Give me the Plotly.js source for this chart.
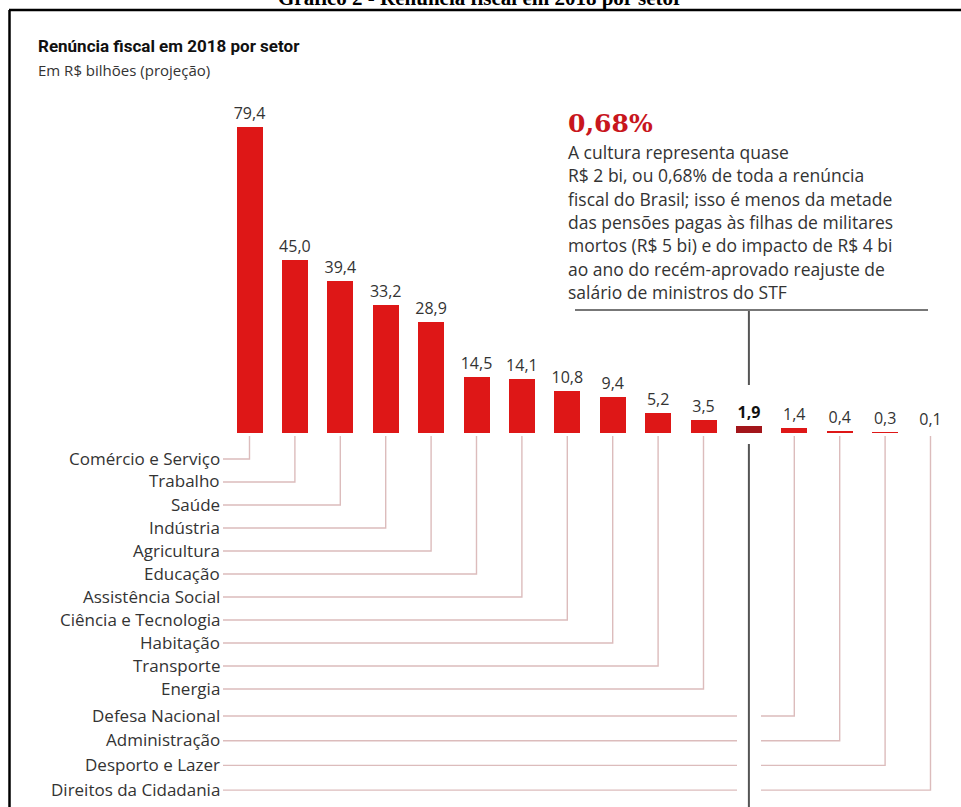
<!DOCTYPE html>
<html>
<head>
<meta charset="utf-8">
<script src="https://cdn.plot.ly/plotly-3.0.1.min.js"></script>
<style>
  html, body { margin: 0; padding: 0; background: #fff; }
  #chart { width: 961px; height: 807px; }
</style>
</head>
<body>
<div id="chart"></div>
<script>
// ---------- data ----------
const sectors = ['Comércio e Serviço', 'Trabalho', 'Saúde', 'Indústria', 'Agricultura', 'Educação',
  'Assistência Social', 'Ciência e Tecnologia', 'Habitação', 'Transporte', 'Energia', 'Cultura',
  'Defesa Nacional', 'Administração', 'Desporto e Lazer', 'Direitos da Cidadania'];
const values = [79.4, 45.0, 39.4, 33.2, 28.9, 14.5, 14.1, 10.8, 9.4, 5.2, 3.5, 1.9, 1.4, 0.4, 0.3, 0.1];
const highlightSector = 'Cultura';
const captionText = 'Gráfico 2 - Renúncia fiscal em 2018 por setor';
const titleText = 'Renúncia fiscal em 2018 por setor';
const subtitleText = 'Em R$ bilhões (projeção)';
const noteHeadline = '0,68%';
const noteLines = ['A cultura representa quase', 'R$ 2 bi, ou 0,68% de toda a renúncia',
  'fiscal do Brasil; isso é menos da metade', 'das pensões pagas às filhas de militares',
  'mortos (R$ 5 bi) e do impacto de R$ 4 bi', 'ao ano do recém-aprovado reajuste de',
  'salário de ministros do STF'];

// ---------- layout geometry (pixels) ----------
const W = 961, H = 807;
const X0PX = 249.5, DXPX = 45.4;      // first bar centre, bar spacing
const BASEPX = 433, YPX = 3.85;       // baseline, px per R$ bi
const FONT = 'Open Sans, Noto Sans, sans-serif';
const xd = px => (px - X0PX) / DXPX;
const yd = py => (BASEPX - py) / YPX;
const pxp = px => px / W;
const pyp = py => 1 - py / H;

const hIdx = sectors.indexOf(highlightSector);
const fmt = v => v.toFixed(1).replace('.', ',');
const idx = sectors.map((_, i) => i);

const barColors = values.map((v, i) => i === hIdx ? '#a3161b' : (v < 0.2 ? '#cfa6a6' : '#de1717'));
const barText = values.map((v, i) => i === hIdx ? '<b>' + fmt(v) + '</b>' : fmt(v));
const barTextColor = values.map((v, i) => i === hIdx ? '#111' : '#333');

// label rows
const labeled = idx.filter(i => i !== hIdx);
function rowPx(k) { return k <= 10 ? 459 + 23 * k : 716 + 24.7 * (k - 11); }

const LABEL_END = 221, LINE_START = 223;
const GAP_L = 737, GAP_R = 761;
const cx = [], cy = [];
labeled.forEach((i, k) => {
  const ly = rowPx(k);
  cx.push(xd(LINE_START)); cy.push(yd(ly));
  if (i > hIdx) {
    cx.push(xd(GAP_L)); cy.push(yd(ly));
    cx.push(null); cy.push(null);
    cx.push(xd(GAP_R)); cy.push(yd(ly));
  }
  cx.push(i); cy.push(yd(ly));
  cx.push(i); cy.push(yd(BASEPX + 3));
  cx.push(null); cy.push(null);
});

const traces = [
  {
    type: 'scatter', mode: 'lines', x: cx, y: cy, hoverinfo: 'skip',
    line: { color: '#dcbcbc', width: 1.4 }, showlegend: false
  },
  {
    type: 'scatter', mode: 'lines', hoverinfo: 'skip', showlegend: false,
    x: [hIdx, hIdx, null, hIdx, hIdx],
    y: [yd(310), yd(385), null, yd(444), yd(H + 5)],
    line: { color: '#555', width: 2 }
  },
  {
    type: 'scatter', mode: 'lines', hoverinfo: 'skip', showlegend: false,
    x: [xd(575), xd(928)], y: [yd(310), yd(310)],
    line: { color: '#777', width: 2 }
  },
  {
    type: 'bar', x: idx, y: values, width: 26 / DXPX,
    marker: { color: barColors, line: { width: 0 } },
    text: barText, textposition: 'outside', constraintext: 'none', cliponaxis: false,
    textangle: 0,
    textfont: { family: FONT, size: 16, color: barTextColor },
    hoverinfo: 'skip', showlegend: false
  }
];

const annotations = [];
labeled.forEach((i, k) => {
  annotations.push({
    xref: 'paper', yref: 'paper', x: pxp(LABEL_END), y: pyp(rowPx(k) - 1),
    xanchor: 'right', yanchor: 'middle', showarrow: false, text: sectors[i], borderpad: 0,
    font: { family: FONT, size: 17, color: '#333' }
  });
});
annotations.push({
  xref: 'paper', yref: 'paper', x: pxp(36), y: pyp(46), xanchor: 'left', yanchor: 'middle',
  showarrow: false, text: '<b>' + titleText + '</b>', font: { family: 'Roboto, sans-serif', size: 17, color: '#111' }
});
annotations.push({
  xref: 'paper', yref: 'paper', x: pxp(36), y: pyp(70), xanchor: 'left', yanchor: 'middle',
  showarrow: false, text: subtitleText, font: { family: FONT, size: 15, color: '#333' }
});
annotations.push({
  xref: 'paper', yref: 'paper', x: pxp(480), y: pyp(12), xanchor: 'center', yanchor: 'bottom',
  showarrow: false, text: '<b>' + captionText + '</b>',
  font: { family: 'Liberation Serif, serif', size: 21, color: '#000' }
});
annotations.push({
  xref: 'paper', yref: 'paper', x: pxp(567), y: pyp(124), xanchor: 'left', yanchor: 'middle',
  showarrow: false, text: '<b>' + noteHeadline + '</b>', borderpad: 0,
  font: { family: 'DejaVu Serif, Liberation Serif, serif', size: 25, color: '#c8161d' }
});
noteLines.forEach((t, k) => {
  annotations.push({
    xref: 'paper', yref: 'paper', x: pxp(567), y: pyp(152 + 23.3 * k), xanchor: 'left', yanchor: 'middle',
    showarrow: false, text: t, borderpad: 0, font: { family: FONT, size: 17.5, color: '#333' }
  });
});

const shapes = [
  { type: 'line', xref: 'paper', yref: 'paper', x0: pxp(9), x1: 1.01, y0: pyp(10), y1: pyp(10),
    line: { color: '#000', width: 2.5 } },
  { type: 'line', xref: 'paper', yref: 'paper', x0: pxp(9.5), x1: pxp(9.5), y0: pyp(10), y1: -0.01,
    line: { color: '#000', width: 2.5 } }
];

const layout = {
  width: W, height: H,
  margin: { l: 0, r: 0, t: 0, b: 0, pad: 0 },
  paper_bgcolor: '#fff', plot_bgcolor: '#fff',
  xaxis: { range: [xd(0), xd(W)], visible: false, fixedrange: true },
  yaxis: { range: [yd(H), yd(0)], visible: false, fixedrange: true },
  bargap: 0,
  showlegend: false,
  annotations: annotations,
  shapes: shapes
};

Plotly.newPlot('chart', traces, layout, { staticPlot: true, displayModeBar: false });
</script>
</body>
</html>
